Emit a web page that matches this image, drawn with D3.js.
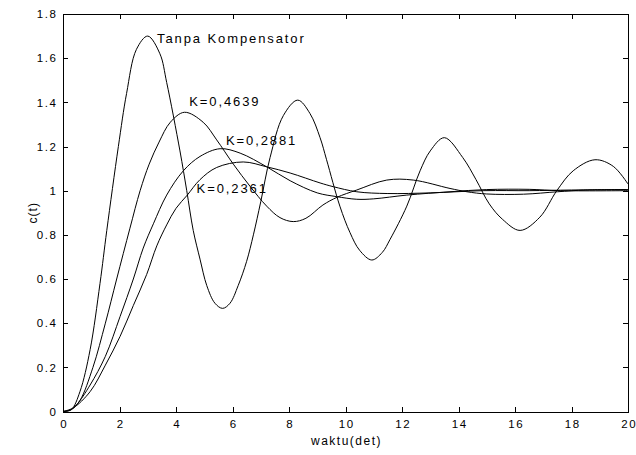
<!DOCTYPE html>
<html>
<head>
<meta charset="utf-8">
<script src="https://cdn.jsdelivr.net/npm/d3@7"></script>
<style>
  body { margin: 0; background: #fff; }
  svg text { font-family: "Liberation Sans", Arial, sans-serif; fill: #000; }
  .axis path, .axis line { stroke: #000; shape-rendering: crispEdges; }
</style>
</head>
<body>
<div id="chart"></div>
<script>
// step response data: [t, c(t)]
var tanpa = [[0,0],[0.3,0.01],[0.6,0.09],[0.96,0.28],[1.31,0.58],[1.55,0.82],[1.96,1.2],[2.25,1.44],
  [2.6,1.64],[3.0,1.7],[3.43,1.62],[3.67,1.49],[4.14,1.18],[4.38,1.0],[4.61,0.82],[4.85,0.69],
  [5.09,0.57],[5.38,0.49],[5.65,0.467],[5.91,0.49],[6.2,0.57],[6.5,0.68],[6.74,0.8],[7.0,0.95],
  [7.33,1.15],[7.8,1.34],[8.31,1.41],[8.74,1.35],[9.1,1.24],[9.33,1.14],[9.8,0.93],[10.16,0.81],
  [10.5,0.73],[10.93,0.686],[11.3,0.72],[11.58,0.78],[12.17,0.93],[12.64,1.09],[13.0,1.18],
  [13.5,1.24],[14.15,1.15],[14.62,1.05],[15.09,0.94],[15.56,0.87],[16.18,0.82],[16.88,0.88],
  [17.48,1.0],[18.06,1.09],[18.83,1.14],[19.48,1.11],[20,1.03]];

var k4639 = [[0,0],[0.3,0.01],[0.6,0.05],[1.06,0.2],[1.5,0.4],[1.9,0.6],[2.37,0.83],[2.73,1.0],
  [3.05,1.12],[3.4,1.22],[3.8,1.31],[4.3,1.355],[4.96,1.31],[5.44,1.23],[6.03,1.12],[6.62,1.02],
  [7.21,0.93],[7.68,0.878],[8.15,0.86],[8.6,0.875],[9.2,0.935],[9.7,0.97],[10.4,1.003],
  [11.46,1.048],[12.4,1.048],[13.7,1.01],[14.3,0.995],[15,0.985],[16.3,0.984],[17.5,0.995],
  [18.5,1.003],[20,1.005]];

var k2881 = [[0,0],[0.25,0.005],[0.48,0.03],[0.96,0.12],[1.5,0.25],[2.02,0.43],[2.49,0.6],
  [2.84,0.74],[3.2,0.85],[3.67,0.98],[4.26,1.09],[4.85,1.155],[5.56,1.19],[6.27,1.17],
  [7.21,1.108],[8.04,1.045],[9.0,0.99],[9.69,0.973],[10.4,0.961],[11.0,0.963],[12.17,0.98],
  [13.7,0.995],[15,1.005],[16.5,1.006],[17.6,1.0],[20,1.0]];

var k2361 = [[0,0],[0.36,0.016],[0.96,0.09],[1.5,0.21],[2.02,0.34],[2.49,0.48],[2.96,0.62],
  [3.32,0.75],[3.67,0.845],[4.0,0.92],[4.4,0.98],[4.85,1.05],[5.44,1.105],[6.38,1.13],
  [7.21,1.108],[8.04,1.08],[9.1,1.035],[9.57,1.018],[10.4,0.995],[11.5,0.987],[13,0.99],
  [14.9,1.0],[16.5,1.0],[18,1.003],[20,1.005]];

var seriesNames = ["Tanpa Kompensator", "K=0,4639", "K=0,2881", "K=0,2361"];
var seriesData = [tanpa, k4639, k2881, k2361];
// where each curve label sits, in data units [t, c]
var labelAt = [[3.33,1.667],[4.47,1.384],[5.77,1.207],[4.73,0.988]];

var xTicks = [0,2,4,6,8,10,12,14,16,18,20];
var yTicks = [0,0.2,0.4,0.6,0.8,1,1.2,1.4,1.6,1.8];

var W = 636, H = 455;
var margin = {top: 14, right: 8, bottom: 43.5, left: 63},
    width = W - margin.left - margin.right,
    height = H - margin.top - margin.bottom;

var svg = d3.select("#chart").append("svg")
    .attr("width", W).attr("height", H)
  .append("g")
    .attr("transform", "translate(" + margin.left + "," + margin.top + ")");

var x = d3.scaleLinear().domain([0, 20]).range([0, width]);
var y = d3.scaleLinear().domain([0, 1.8]).range([height, 0]);

var fmt = function(d) { return String(+d.toFixed(1)); };

// axes, ticks pointing inward on all four sides
var gx = svg.append("g").attr("class", "axis")
    .attr("transform", "translate(0," + height + ")")
    .call(d3.axisBottom(x).tickValues(xTicks).tickFormat(fmt).tickSizeInner(-5).tickSizeOuter(0).tickPadding(8));
var gy = svg.append("g").attr("class", "axis")
    .call(d3.axisLeft(y).tickValues(yTicks).tickFormat(fmt).tickSizeInner(-5).tickSizeOuter(0).tickPadding(7));
svg.append("g").attr("class", "axis")
    .call(d3.axisTop(x).tickValues(xTicks).tickFormat("").tickSizeInner(-5).tickSizeOuter(0));
svg.append("g").attr("class", "axis")
    .attr("transform", "translate(" + width + ",0)")
    .call(d3.axisRight(y).tickValues(yTicks).tickFormat("").tickSizeInner(-5).tickSizeOuter(0));

svg.selectAll(".axis text")
    .style("font-size", "11.5px")
    .style("letter-spacing", "1.6px");
gx.selectAll("text").attr("dx", "0.8px");
gy.selectAll("text").attr("dx", "1.6px");

// curves
var line = d3.line()
    .x(function(d) { return x(d[0]); })
    .y(function(d) { return y(d[1]); })
    .curve(d3.curveCatmullRom.alpha(0.5));

svg.selectAll(".curve")
    .data(seriesData)
    .enter().append("path")
    .attr("class", "curve")
    .attr("d", line)
    .attr("fill", "none")
    .attr("stroke", "#000")
    .attr("stroke-width", 1);

// curve labels
svg.selectAll(".lbl")
    .data(seriesNames)
    .enter().append("text")
    .attr("class", "lbl")
    .attr("x", function(d, i) { return x(labelAt[i][0]); })
    .attr("y", function(d, i) { return y(labelAt[i][1]); })
    .style("font-size", "13px")
    .style("letter-spacing", "1.9px")
    .text(function(d) { return d; });

// axis titles
svg.append("text")
    .attr("x", width / 2 + 1)
    .attr("y", height + 33.5)
    .attr("text-anchor", "middle")
    .style("font-size", "12px")
    .style("letter-spacing", "1.5px")
    .text("waktu(det)");

svg.append("text")
    .attr("transform", "translate(" + (-26) + "," + (height / 2) + ")rotate(-90)")
    .attr("text-anchor", "middle")
    .style("font-size", "12px")
    .style("letter-spacing", "1px")
    .text("c(t)");
</script>
</body>
</html>
